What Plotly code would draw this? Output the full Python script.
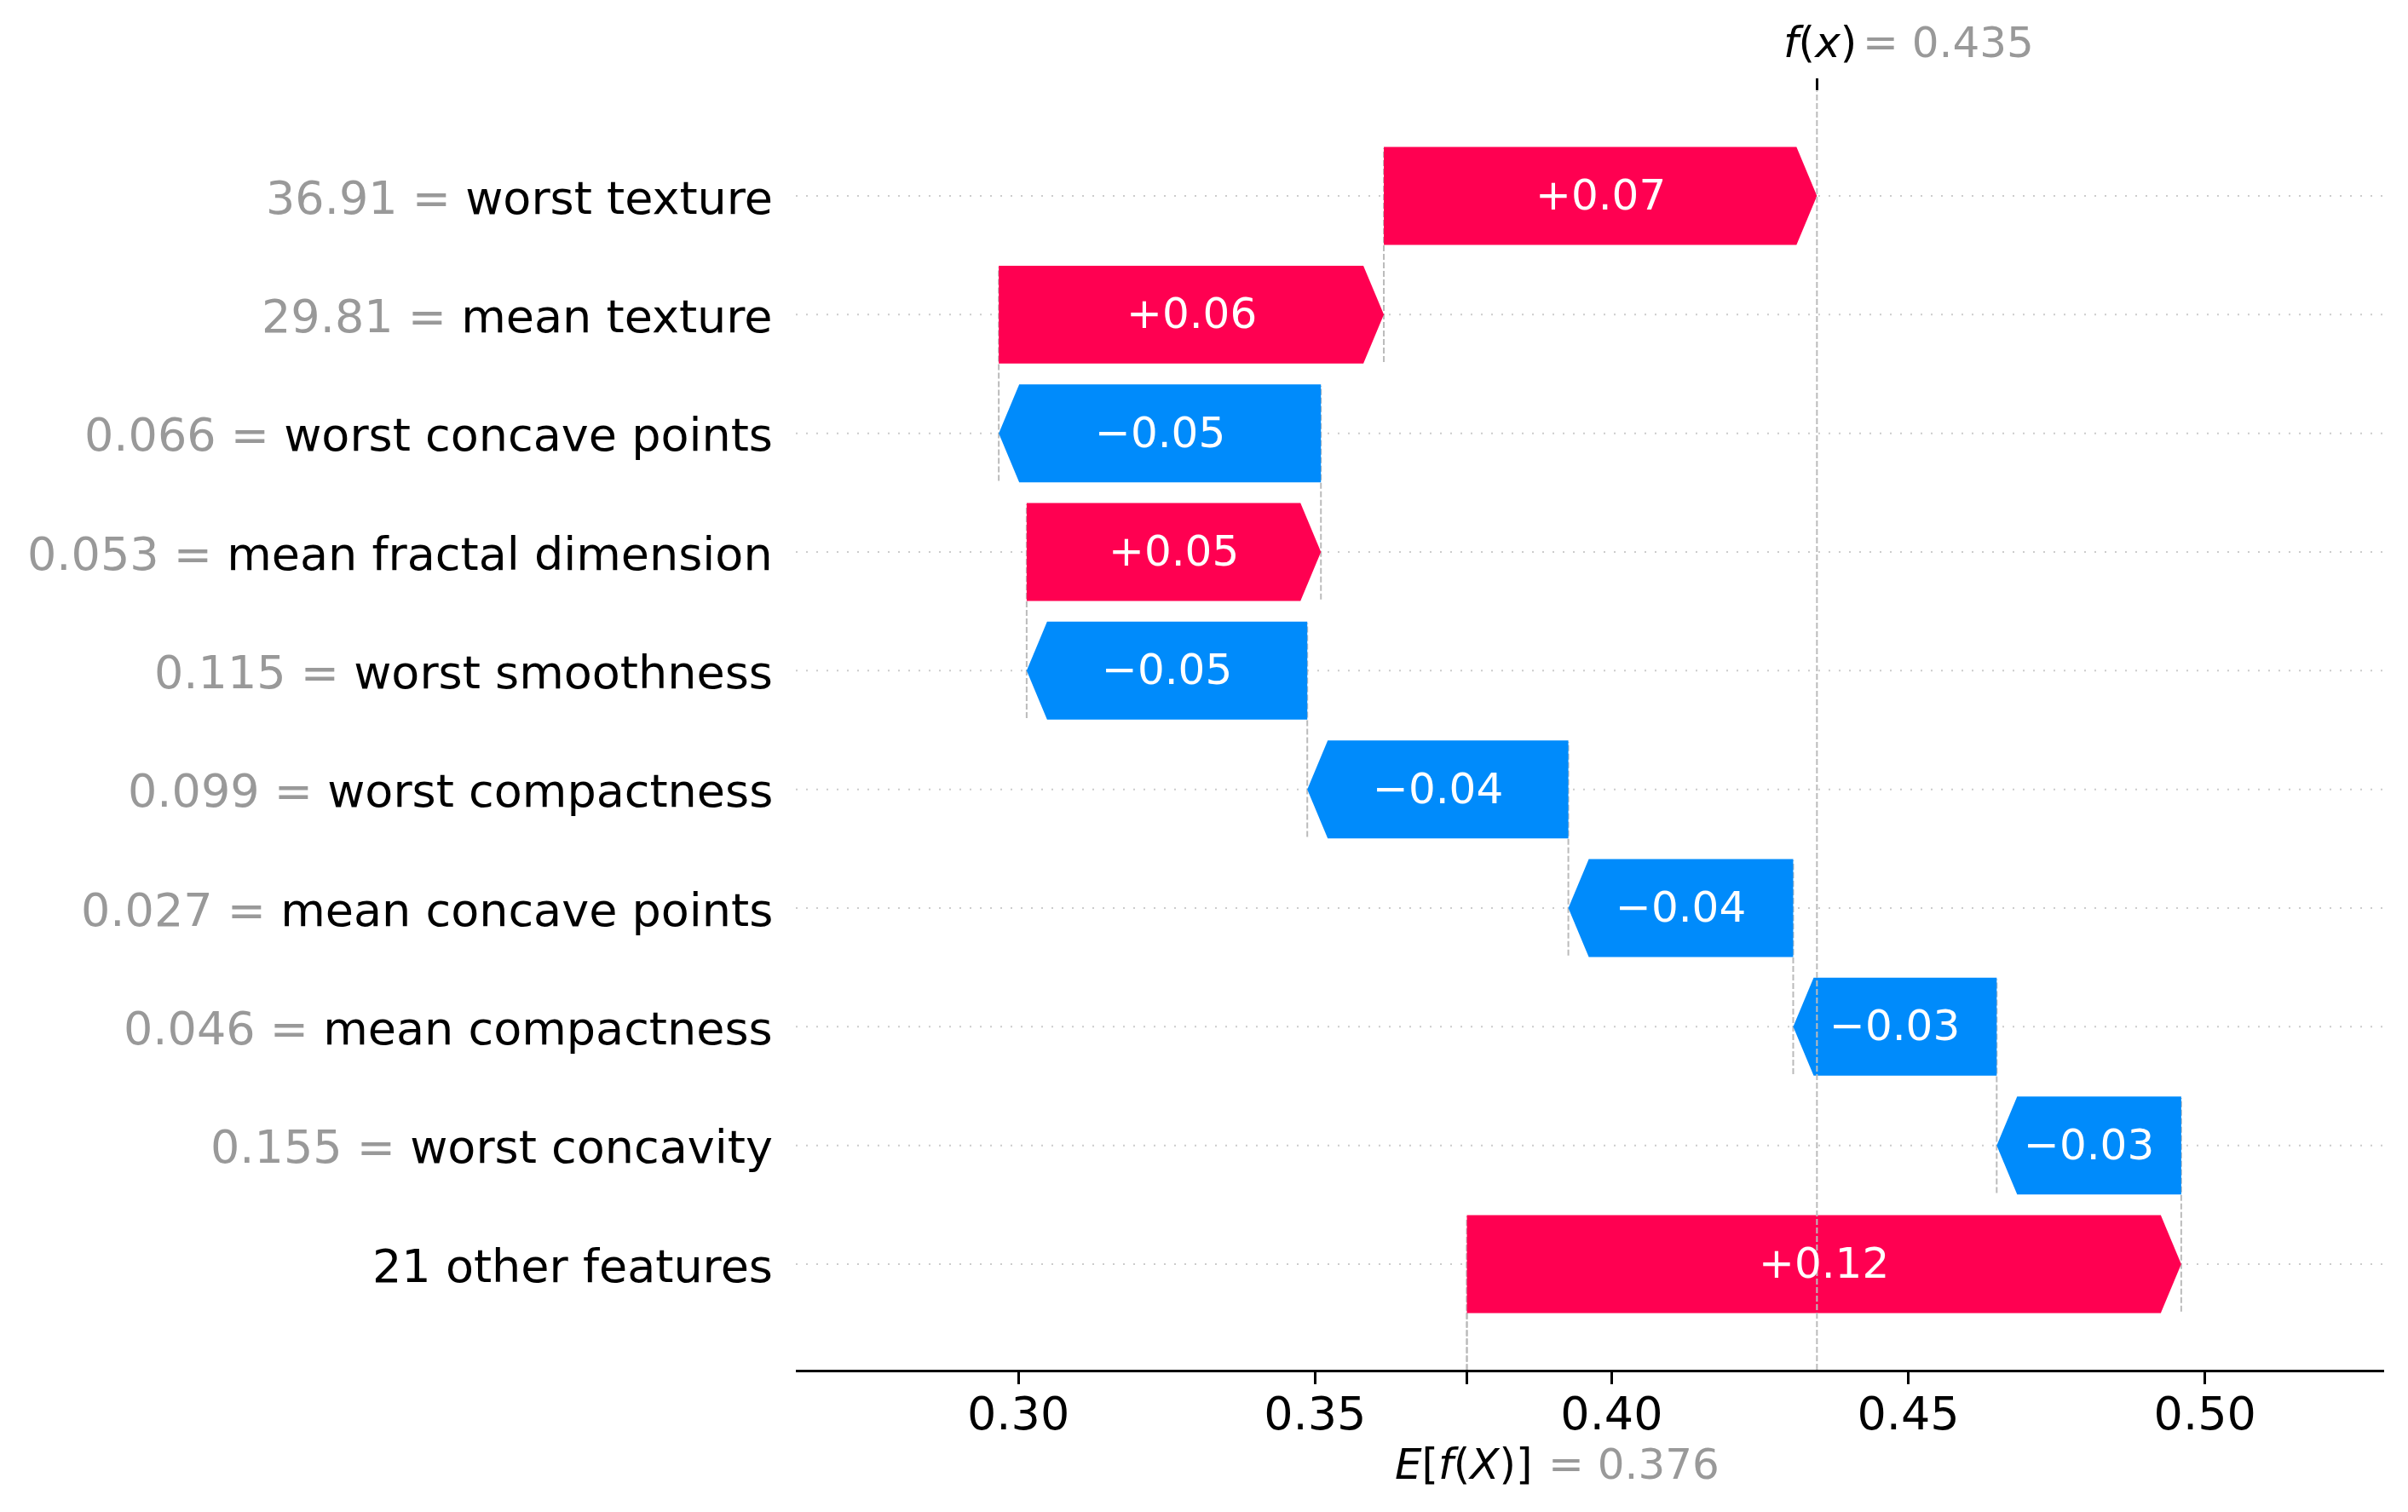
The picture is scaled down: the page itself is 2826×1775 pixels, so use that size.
import plotly.graph_objects as go

# ---------------- data ----------------
feature_names = ["worst texture", "mean texture", "worst concave points", "mean fractal dimension",
                 "worst smoothness", "worst compactness", "mean concave points", "mean compactness",
                 "worst concavity", "21 other features"]
feature_values = ["36.91", "29.81", "0.066", "0.053", "0.115", "0.099", "0.027", "0.046", "0.155", ""]
shap_values = [0.0730, 0.0649, -0.0543, 0.0496, -0.0473, -0.0440, -0.0379, -0.0343, -0.0311, 0.1204]
base_value = 0.3756
x_tick_vals = [0.30, 0.35, 0.40, 0.45, 0.50]
x_tick_text = ["0.30", "0.35", "0.40", "0.45", "0.50"]

# ---------------- style ----------------
RED = "#ff0051"
BLUE = "#008bfb"
GRAY_TXT = "#999999"
FONT = "DejaVu Sans"
PAGE_OFF = 8                      # default body margin of the html page
W, H = 2826 - 2 * PAGE_OFF, 1775 - 2 * PAGE_OFF
M_L, M_R, M_T, M_B = 934 - PAGE_OFF, 28 - PAGE_OFF, 107 - PAGE_OFF, 167 - PAGE_OFF
X_RANGE = [0.2625, 0.5302]
Y_RANGE = [-0.89, 9.883]
BAR_H = 0.825
HEAD_PX = 24

plot_w = W - M_L - M_R
head_len = HEAD_PX * (X_RANGE[1] - X_RANGE[0]) / plot_w

n = len(feature_names)
fx = base_value + sum(shap_values)


def fmt(v):
    return f"{v:+.2f}".replace("-", "\u2212")


# compute bar starts / ends (top feature ends at f(x))
starts, ends, ypos = [], [], []
loc = fx
for i, v in enumerate(shap_values):
    ends.append(loc)
    loc = loc - v
    starts.append(loc)
    ypos.append(n - 1 - i)

fig = go.Figure()

# dotted horizontal guides
gx, gy = [], []
for p in ypos:
    gx += [X_RANGE[0], X_RANGE[1], None]
    gy += [p, p, None]
fig.add_trace(go.Scatter(x=gx, y=gy, mode="lines", hoverinfo="skip", showlegend=False,
                         line=dict(color="#cccccc", width=2, dash="2px,10px")))

# dashed connectors
dx, dy = [], []
for i in range(n):
    s = starts[i]
    dx += [s, s, None]
    dy += [ypos[i] - 1 - 0.4, ypos[i] + 0.4, None]
# E[f(X)] line (bottom 1/n of axes)
span = Y_RANGE[1] - Y_RANGE[0]
dx += [base_value, base_value, None]
dy += [Y_RANGE[0], Y_RANGE[0] + span / n, None]
fig.add_trace(go.Scatter(x=dx, y=dy, mode="lines", hoverinfo="skip", showlegend=False,
                         line=dict(color="#bbbbbb", width=2, dash="7px,3px")))

# f(x) full-height line on the top axis
fig.add_trace(go.Scatter(x=[fx, fx], y=[Y_RANGE[0], Y_RANGE[1]], mode="lines", xaxis="x2",
                         hoverinfo="skip", showlegend=False,
                         line=dict(color="#bbbbbb", width=2, dash="7px,3px")))

# arrows
for i, v in enumerate(shap_values):
    s, e, y = starts[i], ends[i], ypos[i]
    h2 = BAR_H / 2
    hl = min(head_len, abs(e - s))
    if v >= 0:
        xs = [s, e - hl, e, e - hl, s, s]
        col = RED
    else:
        xs = [s, e + hl, e, e + hl, s, s]
        col = BLUE
    ys = [y - h2, y - h2, y, y + h2, y + h2, y - h2]
    fig.add_trace(go.Scatter(x=xs, y=ys, mode="lines", fill="toself", fillcolor=col,
                             line=dict(width=0, color=col), hoverinfo="skip", showlegend=False))
    fig.add_annotation(x=(s + e) / 2, y=y, xref="x", yref="y", text=fmt(v), showarrow=False,
                       yshift=1,
                       font=dict(family=FONT, size=50, color="white"), borderpad=0)

# y labels
for i in range(n):
    if feature_values[i]:
        txt = f"<span style='color:{GRAY_TXT}'>{feature_values[i]} = </span>{feature_names[i]}"
    else:
        txt = feature_names[i]
    fig.add_annotation(x=0, xref="paper", y=ypos[i], yref="y", text=txt, showarrow=False,
                       xanchor="right", yanchor="middle", xshift=-26, yshift=-2, borderpad=0,
                       font=dict(family=FONT, size=54, color="black"))

# E[f(X)] label
fig.add_annotation(x=base_value, xref="x", y=0, yref="paper", text="<i>E</i>[<i>f</i>(<i>X</i>)]",
                   showarrow=False, xanchor="left", yanchor="middle", xshift=-86, yshift=-111,
                   borderpad=0, font=dict(family=FONT, size=50, color="black"))
fig.add_annotation(x=base_value, xref="x", y=0, yref="paper", text=f"= {base_value:.3f}",
                   showarrow=False, xanchor="left", yanchor="middle", xshift=94, yshift=-111,
                   borderpad=0, font=dict(family=FONT, size=50, color=GRAY_TXT))

# f(x) label
fig.add_annotation(x=fx, xref="x", y=1, yref="paper", text="<i>f</i>(<i>x</i>)",
                   showarrow=False, xanchor="left", yanchor="middle", xshift=-40, yshift=57,
                   borderpad=0, font=dict(family=FONT, size=50, color="black"))
fig.add_annotation(x=fx, xref="x", y=1, yref="paper", text=f"= {fx:.3f}",
                   showarrow=False, xanchor="left", yanchor="middle", xshift=53, yshift=57,
                   borderpad=0, font=dict(family=FONT, size=50, color=GRAY_TXT))

fig.update_layout(
    width=W, height=H,
    margin=dict(l=M_L, r=M_R, t=M_T, b=M_B, pad=0),
    plot_bgcolor="white", paper_bgcolor="white",
    showlegend=False,
    font=dict(family=FONT, size=54, color="black"),
    xaxis=dict(range=X_RANGE, tickvals=x_tick_vals + [base_value], ticktext=x_tick_text + [""],
               ticks="outside", ticklen=14, tickwidth=3, tickcolor="black",
               ticklabelstandoff=-12,
               showline=True, linewidth=3, linecolor="black", showgrid=False, zeroline=False,
               tickfont=dict(family=FONT, size=54, color="black")),
    xaxis2=dict(range=X_RANGE, overlaying="x", side="top", tickvals=[fx], ticktext=[""],
                ticks="outside", ticklen=14, tickwidth=3, tickcolor="black",
                showline=False, showgrid=False, zeroline=False),
    yaxis=dict(range=Y_RANGE, showticklabels=False, showgrid=False, zeroline=False,
               showline=False, ticks=""),
)

fig.write_html("out.html")
